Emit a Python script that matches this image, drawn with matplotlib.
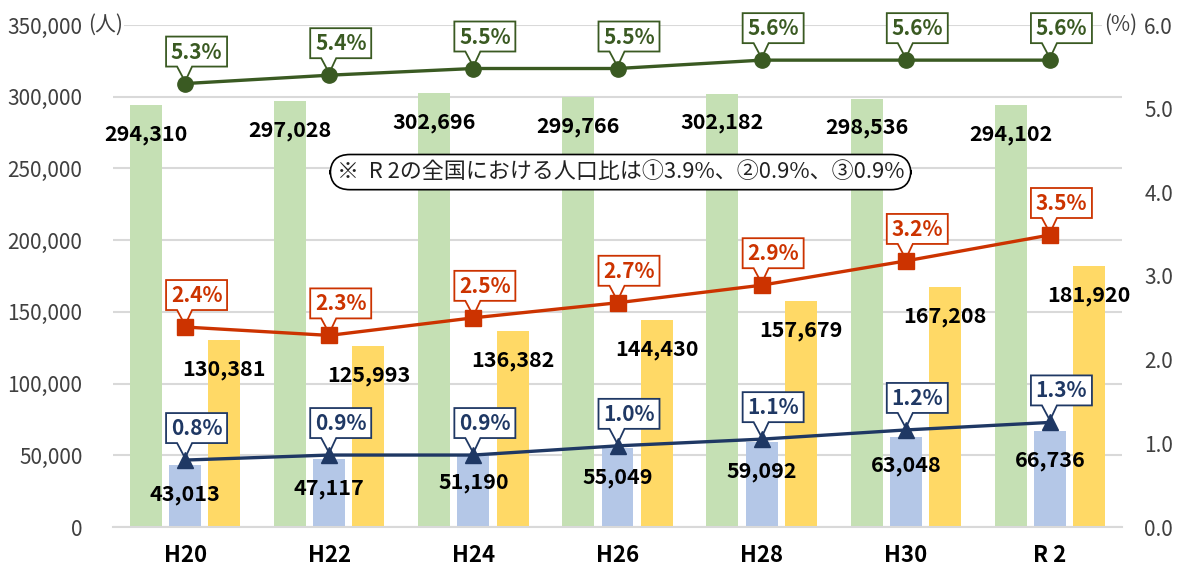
import matplotlib
matplotlib.use("Agg")
import matplotlib.pyplot as plt
import matplotlib.transforms as mtransforms
from matplotlib.patches import Polygon
from matplotlib.ticker import FuncFormatter, MultipleLocator
import numpy as np

plt.rcParams['font.family'] = ['Noto Sans CJK JP', 'DejaVu Sans']

categories = ['H20', 'H22', 'H24', 'H26', 'H28', 'H30', 'R 2']
pop_green = [294310, 297028, 302696, 299766, 302182, 298536, 294102]
pop_blue = [43013, 47117, 51190, 55049, 59092, 63048, 66736]
pop_yellow = [130381, 125993, 136382, 144430, 157679, 167208, 181920]

ratio_green = [5.30, 5.40, 5.48, 5.48, 5.58, 5.58, 5.58]
ratio_green_labels = ['5.3%', '5.4%', '5.5%', '5.5%', '5.6%', '5.6%', '5.6%']
ratio_red = [2.39, 2.29, 2.50, 2.68, 2.89, 3.18, 3.49]
ratio_red_labels = ['2.4%', '2.3%', '2.5%', '2.7%', '2.9%', '3.2%', '3.5%']
ratio_navy = [0.80, 0.86, 0.86, 0.97, 1.05, 1.16, 1.25]
ratio_navy_labels = ['0.8%', '0.9%', '0.9%', '1.0%', '1.1%', '1.2%', '1.3%']

note_text = '※  R 2の全国における人口比は①3.9%、②0.9%、③0.9%'

c_green_bar = '#C5E0B4'
c_blue_bar = '#B4C7E7'
c_yellow_bar = '#FFD966'
c_green_line = '#3A5A22'
c_red_line = '#CC3300'
c_navy_line = '#1F3864'
grid_c = '#D9D9D9'
tick_c = '#404040'

fig = plt.figure(figsize=(11.81, 5.69), dpi=100)
ax1 = fig.add_axes([113/1181, 1-527/569, 1009/1181, 502/569])
ax2 = ax1.twinx()

x = np.arange(len(categories))
bw = 0.222
off = 0.272

ax1.bar(x - off, pop_green, bw, color=c_green_bar, zorder=2)
ax1.bar(x, pop_blue, bw, color=c_blue_bar, zorder=2)
ax1.bar(x + off, pop_yellow, bw, color=c_yellow_bar, zorder=2)

for xs, vals in ((x - off, pop_green), (x, pop_blue), (x + off, pop_yellow)):
    for xi, v in zip(xs, vals):
        ax1.annotate(f'{v:,}', xy=(xi, v), xytext=(0, -21), textcoords='offset points',
                     ha='center', va='center', fontsize=15.5, fontweight='bold',
                     color='black', zorder=5)

ax1.set_xlim(-0.5, len(categories) - 0.5)
ax1.set_ylim(0, 350000)
ax1.yaxis.set_major_locator(MultipleLocator(50000))
ax1.yaxis.set_major_formatter(FuncFormatter(lambda v, p: f'{int(v):,}'))
ax1.grid(axis='y', color=grid_c, lw=1.5, zorder=0)
ax1.set_axisbelow(True)
ax1.set_xticks(x)
ax1.set_xticklabels(categories, fontsize=16, fontweight='bold', color='black')
ax1.tick_params(axis='x', length=0, pad=12)
ax1.tick_params(axis='y', length=0, pad=22, labelsize=15, labelcolor=tick_c)
for s in ('top', 'left', 'right'):
    ax1.spines[s].set_visible(False)
ax1.spines['bottom'].set_color(grid_c)
ax1.spines['bottom'].set_linewidth(1.5)

ax2.set_ylim(0, 6)
ax2.yaxis.set_major_locator(MultipleLocator(1))
ax2.yaxis.set_major_formatter(FuncFormatter(lambda v, p: f'{v:.1f}'))
ax2.tick_params(axis='y', length=0, pad=16, labelsize=15, labelcolor=tick_c)
for s in ax2.spines.values():
    s.set_visible(False)

ax2.plot(x, ratio_green, color=c_green_line, lw=2.4, marker='o', ms=11, zorder=4, clip_on=False)
ax2.plot(x, ratio_red, color=c_red_line, lw=2.4, marker='s', ms=11, zorder=4, clip_on=False)
ax2.plot(x, ratio_navy, color=c_navy_line, lw=2.4, marker='^', ms=11, zorder=4, clip_on=False)

# callout labels (inches relative to the data point)
L, R, B, T = -0.19, 0.42, 0.17, 0.47
verts = [(L, B), (-0.08, B), (0.0, 0.02), (0.07, B), (R, B), (R, T), (L, T)]
for vals, labels, col in ((ratio_green, ratio_green_labels, c_green_line),
                          (ratio_red, ratio_red_labels, c_red_line),
                          (ratio_navy, ratio_navy_labels, c_navy_line)):
    for xi, v, lab in zip(x, vals, labels):
        tr = fig.dpi_scale_trans + mtransforms.ScaledTranslation(xi, v, ax2.transData)
        poly = Polygon(verts, closed=True, transform=tr, facecolor='white',
                       edgecolor=col, lw=1.3, zorder=3, clip_on=False)
        ax2.add_patch(poly)
        ax2.text((L + R) / 2, (B + T) / 2 - 0.005, lab, transform=tr, ha='center', va='center',
                 fontsize=15, fontweight='bold', color=col, zorder=6, clip_on=False)

# unit labels
ax1.annotate('(人)', xy=(0, 350000), xycoords=('axes fraction', 'data'),
             xytext=(-25, 0), textcoords='offset pixels', ha='left', va='center',
             fontsize=15, color=tick_c, zorder=6,
             bbox=dict(boxstyle='square,pad=0.05', fc='white', ec='none'))
ax2.annotate('(%)', xy=(1, 6), xycoords=('axes fraction', 'data'),
             xytext=(-18, 0), textcoords='offset pixels', ha='left', va='center',
             fontsize=15, color=tick_c, zorder=6,
             bbox=dict(boxstyle='square,pad=0.1', fc='white', ec='none'))

# note
ax2.text(0.503, 0.707, note_text, transform=ax2.transAxes, ha='center', va='center',
         fontsize=15.8, color='#222222', zorder=7,
         bbox=dict(boxstyle='round,pad=0.3,rounding_size=0.9', fc='white', ec='black', lw=1.2))

fig.savefig('out.png', dpi=100)
